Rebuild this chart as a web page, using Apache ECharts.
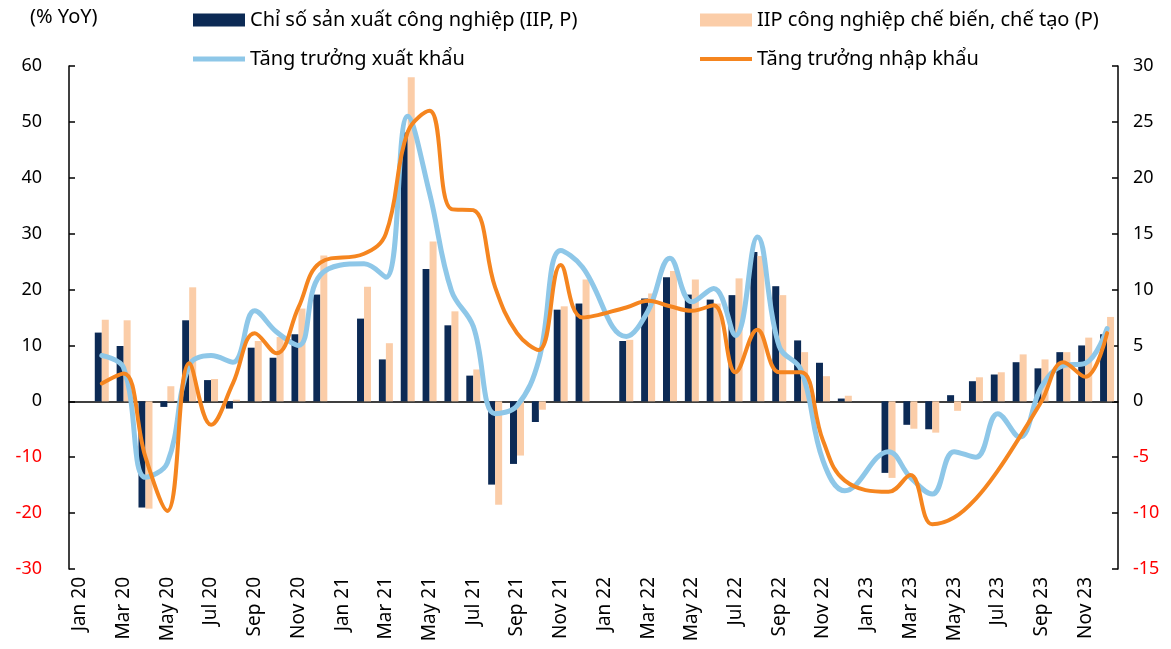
<!DOCTYPE html>
<html>
<head>
<meta charset="utf-8">
<script src="https://cdn.jsdelivr.net/npm/echarts@6/dist/echarts.min.js"></script>
<style>
  html, body { margin: 0; padding: 0; background: #fff; }
  #chart { width: 1171px; height: 649px; }
</style>
</head>
<body>
<div id="chart"></div>
<script>
// tháng: Jan 20 .. Dec 23
var months = []
;['20', '21', '22', '23'].forEach(function (y) {
  ['Jan', 'Feb', 'Mar', 'Apr', 'May', 'Jun', 'Jul', 'Aug', 'Sep', 'Oct', 'Nov', 'Dec'].forEach(function (m) {
    months.push(m + ' ' + y)
  })
})

// IIP (trục trái)
var iip = [null, 12.3, 9.9, -19.0, -1.0, 14.5, 3.8, -1.3, 9.6, 7.8, 12.0, 19.1,
  null, 14.8, 7.5, 48.1, 23.7, 13.6, 4.6, -14.9, -11.2, -3.7, 16.4, 17.5,
  null, 10.8, 18.4, 22.2, 19.1, 18.2, 19.0, 26.7, 20.6, 10.9, 6.9, 0.5,
  null, -12.8, -4.2, -5.0, 1.1, 3.6, 4.8, 7.0, 5.9, 8.8, 10.0, 12.0]
// IIP chế biến, chế tạo (trục trái)
var iipMfg = [null, 14.6, 14.5, -19.2, 2.7, 20.4, 4.0, 0.3, 10.8, 11.5, 16.6, 26.1,
  null, 20.5, 10.4, 58.0, 28.6, 16.1, 5.7, -18.5, -9.7, -1.5, 17.0, 21.8,
  null, 11.0, 19.3, 23.3, 21.8, 17.5, 22.0, 26.0, 19.0, 8.8, 4.5, 1.0,
  null, -13.7, -4.9, -5.6, -1.7, 4.3, 5.2, 8.4, 7.5, 8.8, 11.4, 15.1]
// xuất khẩu (trục phải)
var exportGrowth = [null, 4.1, 3.0, -6.8, -5.5, 3.2, 4.1, 3.5, 8.1, 6.2, 5.0, 11.3,
  null, 12.3, 11.1, 25.5, 18.6, 9.9, 6.7, -1.1, -0.4, 3.7, 13.5, 12.0,
  null, 5.8, 8.1, 12.8, 8.9, 10.1, 5.9, 14.7, 4.9, 2.8, -5.3, -8.0,
  null, -4.5, -6.8, -8.3, -4.5, -5.0, -1.1, -3.2, 1.3, 3.2, 3.4, 6.5]
// nhập khẩu (trục phải)
var importGrowth = [null, 1.6, 2.5, -5.0, -9.8, 3.4, -2.1, 1.6, 6.1, 4.3, 8.4, 12.4,
  null, 13.2, 15.0, 24.1, 26.0, 17.2, 17.1, 10.2, 6.1, 4.6, 12.2, 7.5,
  null, 8.4, 9.0, 8.5, 8.1, 8.6, 2.6, 6.4, 2.6, 2.6, -3.5, -7.1,
  null, -8.1, -6.6, -11.0, -10.4, -8.7, -6.2, -3.2, 0.0, 3.5, 2.2, 6.1]

var names = ['Chỉ số sản xuất công nghiệp (IIP, P)', 'IIP công nghiệp chế biến, chế tạo (P)',
  'Tăng trưởng xuất khẩu', 'Tăng trưởng nhập khẩu']

var font = 'Noto Sans'
var negRed = function (val) {
  return Number(val) < 0 ? '#FF0000' : '#000'
}

// mỗi mục chú thích đặt riêng một chỗ
function legendAt(name, left, top, h) {
  return {
    data: [name],
    left: left,
    top: top,
    icon: 'rect',
    itemWidth: 52,
    itemHeight: h,
    itemGap: 5,
    textStyle: { fontFamily: font, fontSize: 20, color: '#000' },
    selectedMode: false
  }
}

var chart = echarts.init(document.getElementById('chart'))

chart.setOption({
  animation: false,
  textStyle: { fontFamily: font },
  graphic: [{
    type: 'text',
    left: 30,
    top: 7,
    style: { text: '(% YoY)', font: '20px "Noto Sans"', fill: '#000' }
  }],
  legend: [
    legendAt(names[0], 188, 5, 13),
    legendAt(names[1], 695, 5, 13),
    legendAt(names[2], 188, 44, 5),
    legendAt(names[3], 695, 44, 4)
  ],
  grid: { left: 69, right: 53, top: 66, bottom: 80, containLabel: false },
  xAxis: [{
    type: 'category',
    data: months,
    axisLine: { onZero: true, onZeroAxisIndex: 0, lineStyle: { color: '#000', width: 1.5 } },
    axisTick: { inside: true, length: 6, interval: 1, lineStyle: { color: '#000', width: 1.5 } },
    axisLabel: { show: false }
  }, {
    type: 'category',
    data: months,
    position: 'bottom',
    axisLine: { show: false, onZero: false },
    axisTick: { show: false },
    axisLabel: { rotate: 90, interval: 1, margin: 8, fontSize: 19, color: '#000', fontFamily: font }
  }],
  yAxis: [{
    type: 'value',
    min: -30,
    max: 60,
    interval: 10,
    splitLine: { show: false },
    axisLine: { show: true, lineStyle: { color: '#000', width: 1.5 } },
    axisTick: { show: true, inside: true, length: 6, lineStyle: { color: '#000', width: 1.5 } },
    axisLabel: { fontSize: 18, margin: 27, color: negRed, fontFamily: font }
  }, {
    type: 'value',
    min: -15,
    max: 30,
    interval: 5,
    splitLine: { show: false },
    axisLine: { show: true, lineStyle: { color: '#000', width: 1.5 } },
    axisTick: { show: true, inside: true, length: 6, lineStyle: { color: '#000', width: 1.5 } },
    axisLabel: { fontSize: 18, margin: 15, color: negRed, fontFamily: font }
  }],
  series: [{
    name: names[0],
    type: 'bar',
    data: iip,
    barWidth: 7,
    barGap: '0%',
    itemStyle: { color: '#0C2A55' }
  }, {
    name: names[1],
    type: 'bar',
    data: iipMfg,
    barWidth: 7,
    barGap: '0%',
    itemStyle: { color: '#FBCDA8' }
  }, {
    name: names[2],
    type: 'line',
    yAxisIndex: 1,
    data: exportGrowth,
    smooth: 0.4,
    connectNulls: true,
    symbol: 'none',
    lineStyle: { color: '#8EC7E8', width: 5, cap: 'round' },
    itemStyle: { color: '#8EC7E8' }
  }, {
    name: names[3],
    type: 'line',
    yAxisIndex: 1,
    data: importGrowth,
    smooth: 0.4,
    connectNulls: true,
    symbol: 'none',
    lineStyle: { color: '#F5851F', width: 4, cap: 'round' },
    itemStyle: { color: '#F5851F' }
  }]
})
</script>
</body>
</html>
